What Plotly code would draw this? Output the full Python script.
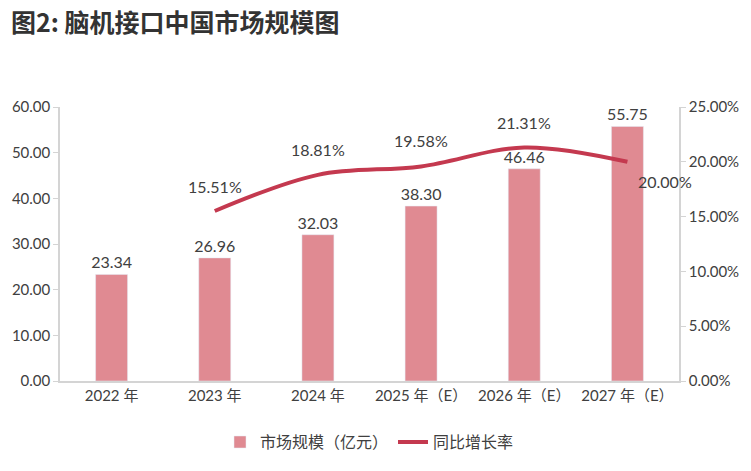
import plotly.graph_objects as go

# data
years = ["2022 年", "2023 年", "2024 年", "2025 年（E）", "2026 年（E）", "2027 年（E）"]
market_size = [23.34, 26.96, 32.03, 38.30, 46.46, 55.75]
growth_years = years[1:]
growth_rate = [15.51, 18.81, 19.58, 21.31, 20.00]

bar_color = "#e08a92"
line_color = "#c4394f"
text_color = "#404040"
axis_color = "#d4d4d4"
font_family = "Lato, Noto Sans CJK SC, sans-serif"

# label offsets for the growth line (px)
label_xshift = [0, 0, 0, 0, 38]
label_yshift = [25, 25, 26, 25, -20]

fig = go.Figure()

fig.add_trace(go.Bar(
    x=years, y=market_size, name="市场规模（亿元）",
    marker_color=bar_color, width=0.31,
    text=[f"{v:.2f}" for v in market_size], textposition="outside",
    constraintext="none",
    textfont=dict(size=16, color=text_color), cliponaxis=False,
))

fig.add_trace(go.Scatter(
    x=growth_years, y=growth_rate, name="同比增长率", yaxis="y2",
    mode="lines", line=dict(color=line_color, width=4, shape="spline"),
    cliponaxis=False,
))

for yr, v, dx, dy in zip(growth_years, growth_rate, label_xshift, label_yshift):
    fig.add_annotation(x=yr, y=v, yref="y2", text=f"{v:.2f}%", showarrow=False,
                       xshift=dx, yshift=dy, font=dict(size=16, color=text_color))

fig.update_layout(
    width=743, height=463,
    margin=dict(l=52, r=72, t=99, b=90),
    paper_bgcolor="white", plot_bgcolor="white",
    font=dict(family=font_family, color=text_color, size=14),
    title=dict(text="<b>图2: 脑机接口中国市场规模图</b>", x=0.004, xanchor="left", y=0.985, yanchor="top",
               pad=dict(t=0), font=dict(family="Noto Sans CJK SC", size=25, color="#333333")),
    showlegend=True,
    legend=dict(orientation="h", x=0.5, xanchor="center", y=-0.223, yanchor="middle",
                font=dict(size=16, color=text_color), traceorder="normal"),
    xaxis=dict(range=[-0.5, 5.5], automargin=False,
               showline=True, linecolor=axis_color, linewidth=1.5, ticks="",
               tickfont=dict(size=15, color=text_color), showgrid=False),
    yaxis=dict(range=[0, 60], dtick=10, tickformat=".2f", showgrid=False, automargin=False,
               showline=True, linecolor=axis_color, linewidth=1.5, ticks="outside",
               ticklen=5, tickcolor=axis_color, tickfont=dict(size=15, color=text_color)),
    yaxis2=dict(range=[0, 25], dtick=5, overlaying="y", side="right", showgrid=False,
                ticksuffix="%", tickformat=".2f", automargin=False,
                showline=True, linecolor=axis_color, linewidth=1.5, ticks="outside",
                ticklen=5, tickcolor=axis_color, tickfont=dict(size=15, color=text_color)),
)

fig.write_html("out.html")
